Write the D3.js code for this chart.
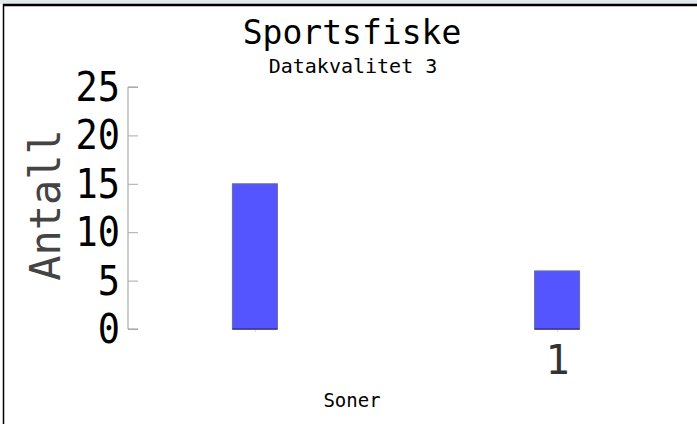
<!DOCTYPE html>
<html>
<head>
<meta charset="utf-8">
<script src="https://cdn.jsdelivr.net/npm/d3@7"></script>
<style>
  body { margin: 0; background: #fff; }
  text { font-family: "DejaVu Sans Mono", monospace; }
</style>
</head>
<body>
<div id="chart"></div>
<script>
// chart data
var zones = ["", "1"];
var counts = [15, 6];
var yTicks = [0, 5, 10, 15, 20, 25];

var width = 697, height = 424;

var svg = d3.select("#chart").append("svg")
    .attr("width", width)
    .attr("height", height);

// leftover window frame
svg.append("rect").attr("x", 0).attr("y", 0).attr("width", width).attr("height", 4).attr("fill", "#e4e8ee");
svg.append("line").attr("x1", 3).attr("x2", width).attr("y1", 5).attr("y2", 5)
    .attr("stroke", "#000").attr("stroke-width", 2.5);
svg.append("line").attr("x1", 3.5).attr("x2", 3.5).attr("y1", 4).attr("y2", height)
    .attr("stroke", "#000").attr("stroke-width", 1.5);

var x = d3.scalePoint().domain(zones).range([128, 684]).padding(0.42);
var y = d3.scaleLinear().domain([0, 25]).range([329, 87]);

// y axis
var yAxis = svg.append("g")
    .attr("transform", "translate(128,0)")
    .call(d3.axisLeft(y).tickValues(yTicks).tickSize(-10).tickPadding(8));
yAxis.select(".domain").attr("stroke", "#999").attr("d", "M10,87H0V329H10");
yAxis.selectAll(".tick line").attr("stroke", "#aaa");
yAxis.selectAll(".tick text")
    .attr("fill", "#000")
    .style("font-size", "37px")
    .attr("transform", "scale(1,1.1)")
    .attr("y", function(d) { return 0; })
    .attr("dy", "0.36em");
yAxis.selectAll(".tick text").attr("transform", "scale(1,1.1)")
    .attr("dy", "0.33em");

// x labels
var xAxis = svg.append("g")
    .attr("transform", "translate(0,329)")
    .call(d3.axisBottom(x).tickSize(3).tickPadding(14));
xAxis.select(".domain").remove();
xAxis.selectAll(".tick line").attr("stroke", "#ddd");
xAxis.selectAll(".tick text")
    .attr("fill", "#333")
    .style("font-size", "40px");

// bars
var barW = 45;
var bars = svg.append("g");
zones.forEach(function(z, i) {
    bars.append("rect")
        .attr("x", x(z) - barW / 2)
        .attr("y", y(counts[i]))
        .attr("width", barW)
        .attr("height", y(0) - y(counts[i]))
        .attr("fill", "#5555ff")
        .attr("stroke", "#6a6aa8")
        .attr("stroke-width", 1);
    bars.append("line")
        .attr("x1", x(z) - barW / 2).attr("x2", x(z) + barW / 2)
        .attr("y1", y(0)).attr("y2", y(0))
        .attr("stroke", "#333388").attr("stroke-width", 1.5);
});

// titles
svg.append("text").attr("x", 352).attr("y", 44)
    .attr("text-anchor", "middle").style("font-size", "33px").attr("fill", "#000")
    .text("Sportsfiske");
svg.append("text").attr("x", 353).attr("y", 73)
    .attr("text-anchor", "middle").style("font-size", "20px").attr("fill", "#000")
    .text("Datakvalitet 3");
svg.append("text").attr("x", 352).attr("y", 407)
    .attr("text-anchor", "middle").style("font-size", "19px").attr("fill", "#000")
    .text("Soner");
svg.append("text")
    .attr("transform", "translate(60,205) rotate(-90)")
    .attr("text-anchor", "middle").style("font-size", "42px").attr("fill", "#444")
    .text("Antall");
</script>
</body>
</html>
